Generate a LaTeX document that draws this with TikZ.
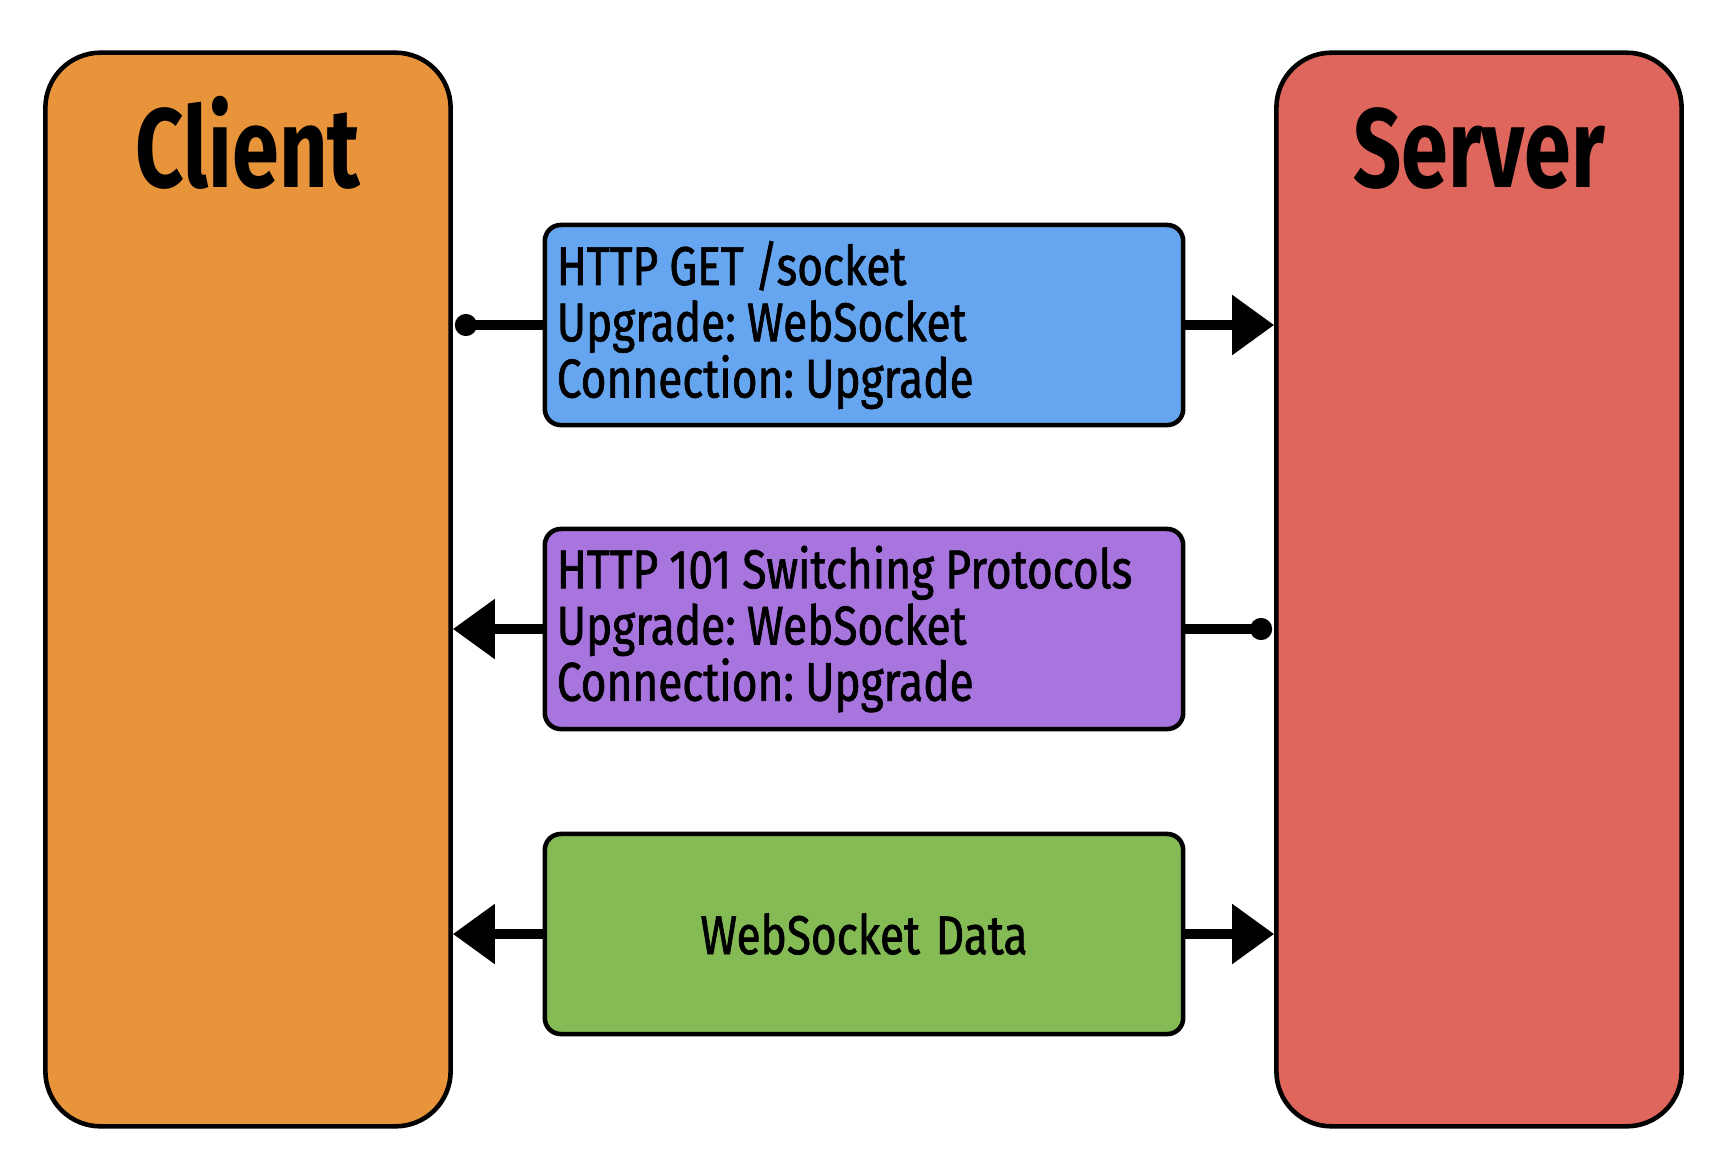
\documentclass[tikz,border=0pt]{standalone}
\usepackage{fontspec}
\usetikzlibrary{positioning,arrows.meta}
\newfontfamily\handfont[FakeStretch=0.81, FakeBold=1.3]{Fira Sans}
\newfontfamily\titlefont[FakeStretch=0.75]{Fira Sans}
\definecolor{clientorange}{RGB}{232,148,58}
\definecolor{serverred}{RGB}{222,102,92}
\definecolor{getblue}{RGB}{102,166,240}
\definecolor{switchpurple}{RGB}{168,116,222}
\definecolor{datagreen}{RGB}{133,187,85}

\begin{document}
\begin{tikzpicture}[x=0.01cm, y=-0.01cm,
  party/.style={draw, line width=1.3pt, rounded corners=0.55cm, minimum width=4.05cm, minimum height=10.73cm},
  msg/.style={draw, line width=1.3pt, rounded corners=0.16cm, minimum width=6.38cm, minimum height=2cm,
    inner xsep=0.12cm, text width=6.14cm, font=\handfont\fontsize{15.5}{16}\selectfont,
    execute at begin node={\frenchspacing\lineskiplimit=-20pt\relax\lineskip=0pt\relax\spaceskip=3.2pt plus 1pt minus 1pt\relax}},
  title/.style={font=\titlefont\bfseries\fontsize{32}{32}\selectfont, inner sep=0pt, anchor=base},
  link/.style={line width=2.6pt},
  headtip/.style={-{Triangle[length=0.42cm,width=0.58cm]}},
  dottail/.style={{Circle[length=0.22cm]}-, shorten <=0.02cm}]
\useasboundingbox (0,0) rectangle (1718,1166);

\node[party, fill=clientorange] (client) at (248,589.5) {};
\node[party, fill=serverred] (server) at (1479,589.5) {};
\node[title] (clienttitle) at ([yshift=-1.37cm]client.north) {Client};
\node[title] (servertitle) at ([yshift=-1.37cm]server.north) {Server};

\node[msg, fill=getblue, align=left] (get) at (864,325)
  {HTTP GET /socket\\Upgrade: WebSocket\\Connection: Upgrade};
\node[msg, fill=switchpurple, align=left] (switch) at (864,629)
  {HTTP 101 Switching Protocols\\Upgrade: WebSocket\\Connection: Upgrade};
\node[msg, fill=datagreen, align=center] (data) at (864,934) {WebSocket Data};

\draw[link, dottail] (get.west -| client.east) -- (get.west);
\draw[link, headtip] (get.east) -- (get.east -| server.west);
\draw[link, headtip] (switch.west) -- (switch.west -| client.east);
\draw[link, dottail] (switch.east -| server.west) -- (switch.east);
\draw[link, headtip] (data.west) -- (data.west -| client.east);
\draw[link, headtip] (data.east) -- (data.east -| server.west);
\end{tikzpicture}
\end{document}
